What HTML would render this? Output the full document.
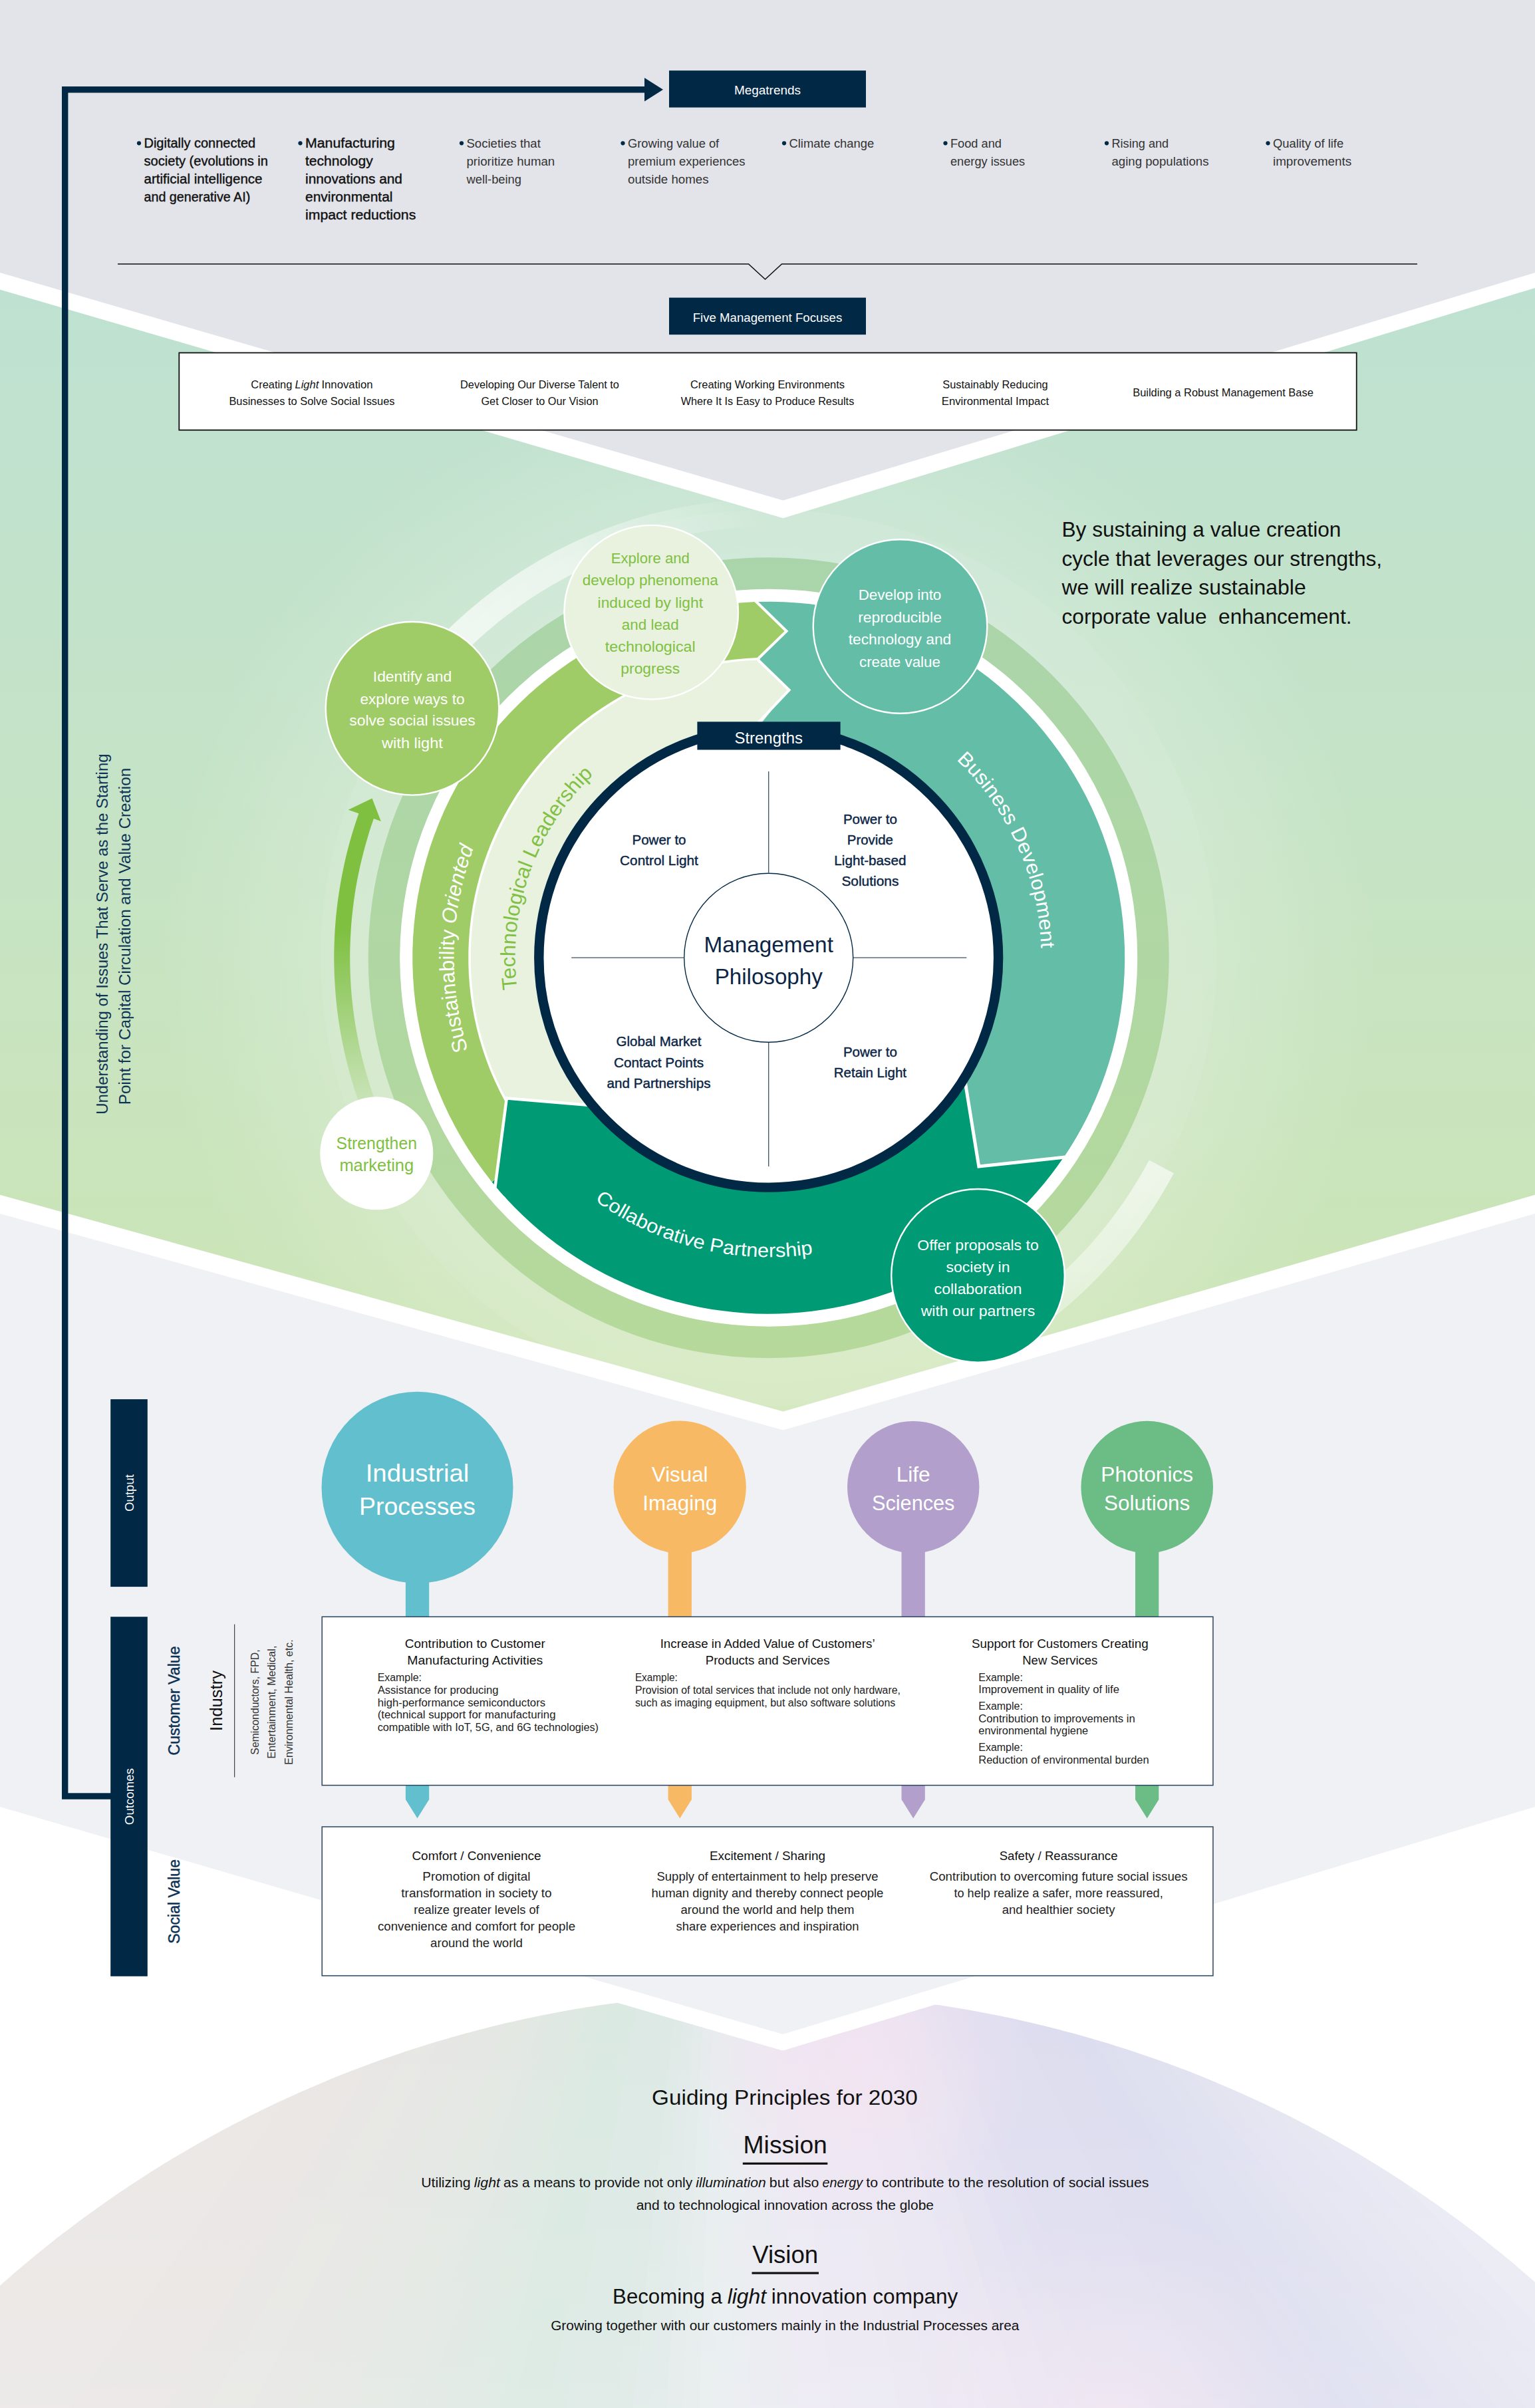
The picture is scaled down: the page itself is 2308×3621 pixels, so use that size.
<!DOCTYPE html>
<html lang="en"><head><meta charset="utf-8"><title>Value Creation Model</title>
<style>html,body{margin:0;padding:0;background:#fff}body{width:2308px;height:3621px;overflow:hidden}svg{display:block}text{font-family:"Liberation Sans", sans-serif;white-space:pre}</style>
</head><body>
<svg width="2308" height="3621" viewBox="0 0 2308 3621">
<defs>
<linearGradient id="gGreen" x1="0" y1="0" x2="0" y2="1"><stop offset="0" stop-color="#bee1d1"/><stop offset="0.45" stop-color="#c5e3c6"/><stop offset="1" stop-color="#cde5b4"/></linearGradient>
<radialGradient id="gGlow" gradientUnits="userSpaceOnUse" cx="1155.7" cy="1440.2" r="1150"><stop offset="0" stop-color="#fff" stop-opacity="0.20"/><stop offset="0.52" stop-color="#fff" stop-opacity="0.20"/><stop offset="0.62" stop-color="#fff" stop-opacity="0.15"/><stop offset="0.72" stop-color="#fff" stop-opacity="0.06"/><stop offset="0.8" stop-color="#fff" stop-opacity="0"/></radialGradient>
<linearGradient id="gRing" gradientUnits="userSpaceOnUse" x1="0" y1="840" x2="0" y2="2040"><stop offset="0" stop-color="#aad5ab"/><stop offset="1" stop-color="#b6d99b"/></linearGradient>
<linearGradient id="gArrow" gradientUnits="userSpaceOnUse" x1="0" y1="1400" x2="0" y2="1700"><stop offset="0" stop-color="#7fc041" stop-opacity="1"/><stop offset="1" stop-color="#7fc041" stop-opacity="0"/></linearGradient>
<linearGradient id="gSw1" gradientUnits="userSpaceOnUse" x1="640" y1="1000" x2="1150" y2="790"><stop offset="0" stop-color="#fff" stop-opacity="0.7"/><stop offset="0.45" stop-color="#fff" stop-opacity="0.55"/><stop offset="1" stop-color="#fff" stop-opacity="0"/></linearGradient>
<linearGradient id="gSw2" gradientUnits="userSpaceOnUse" x1="1750" y1="1750" x2="1560" y2="2040"><stop offset="0" stop-color="#fff" stop-opacity="0.6"/><stop offset="1" stop-color="#fff" stop-opacity="0.3"/></linearGradient>
<clipPath id="cGreen"><polygon points="0,435.4 1177.5,779.2 2308,433 2308,1796.7 1177.6,2122.4 0,1796.7"/></clipPath>
<clipPath id="cDome"><polygon points="0,2742 1177,3083.8 2308,2742 2308,3621 0,3621"/></clipPath>
<linearGradient id="gDome" gradientUnits="userSpaceOnUse" x1="0" y1="3000" x2="2308" y2="3700"><stop offset="0.0361" stop-color="#ebe8e6"/><stop offset="0.1918" stop-color="#e7e6e3"/><stop offset="0.3108" stop-color="#dbe9e3"/><stop offset="0.4024" stop-color="#dfebe7"/><stop offset="0.4665" stop-color="#e9ecef"/><stop offset="0.5398" stop-color="#ebe6f1"/><stop offset="0.6588" stop-color="#dfdef0"/><stop offset="0.7871" stop-color="#dddff0"/><stop offset="0.9519" stop-color="#efeff5"/></linearGradient>
<radialGradient id="gPink" gradientUnits="userSpaceOnUse" cx="1290" cy="3090" r="260"><stop offset="0" stop-color="#f3e3f1" stop-opacity="0.9"/><stop offset="1" stop-color="#f3e3f1" stop-opacity="0"/></radialGradient>
<radialGradient id="gPink2" gradientUnits="userSpaceOnUse" cx="1680" cy="3660" r="330"><stop offset="0" stop-color="#f3e6f0" stop-opacity="0.8"/><stop offset="1" stop-color="#f3e6f0" stop-opacity="0"/></radialGradient>
<linearGradient id="gDomeV" gradientUnits="userSpaceOnUse" x1="0" y1="3000" x2="0" y2="3621"><stop offset="0" stop-color="#fff" stop-opacity="0"/><stop offset="1" stop-color="#fff" stop-opacity="0.12"/></linearGradient>
</defs>
<rect width="2308" height="3621" fill="#fff"/>
<polygon points="0,0 2308,0 2308,410 1177.5,752.5 0,410" fill="#e2e4ea"/>
<polygon points="0,435.4 1177.5,779.2 2308,433 2308,1796.7 1177.6,2122.4 0,1796.7" fill="url(#gGreen)"/>
<polygon points="0,1825 1177.6,2150.5 2308,1825 2308,2717 1177,3059 0,2717" fill="#f0f1f4"/>
<clipPath id="cDomeC"><circle cx="1157" cy="4736" r="1739.5"/></clipPath>
<g clip-path="url(#cDome)"><g clip-path="url(#cDomeC)">
<polygon points="1100.0,2200.0 4108.0,3291.8 4086.5,3349.4" fill="#f2f2f7"/>
<polygon points="1100.0,2200.0 4088.5,3344.2 4065.9,3401.3" fill="#f2f2f7"/>
<polygon points="1100.0,2200.0 4068.0,3396.2 4044.5,3452.9" fill="#f2f2f7"/>
<polygon points="1100.0,2200.0 4046.7,3447.8 4022.2,3504.1" fill="#f2f2f7"/>
<polygon points="1100.0,2200.0 4024.5,3499.0 3999.0,3554.9" fill="#f2f2f7"/>
<polygon points="1100.0,2200.0 4001.4,3549.8 3974.9,3605.3" fill="#f1f1f7"/>
<polygon points="1100.0,2200.0 3977.4,3600.3 3950.0,3655.3" fill="#f1f1f7"/>
<polygon points="1100.0,2200.0 3952.5,3650.3 3924.1,3704.8" fill="#f1f1f7"/>
<polygon points="1100.0,2200.0 3926.7,3699.8 3897.4,3753.8" fill="#f1f1f7"/>
<polygon points="1100.0,2200.0 3900.1,3748.9 3869.9,3802.4" fill="#f1f1f7"/>
<polygon points="1100.0,2200.0 3872.7,3797.6 3841.5,3850.5" fill="#f1f1f6"/>
<polygon points="1100.0,2200.0 3844.4,3845.7 3812.3,3898.1" fill="#f1f1f6"/>
<polygon points="1100.0,2200.0 3815.2,3893.4 3782.2,3945.2" fill="#f1f1f6"/>
<polygon points="1100.0,2200.0 3785.3,3940.5 3751.4,3991.7" fill="#f1f1f6"/>
<polygon points="1100.0,2200.0 3754.5,3987.1 3719.7,4037.7" fill="#f1f1f6"/>
<polygon points="1100.0,2200.0 3722.9,4033.2 3687.2,4083.2" fill="#f0f0f6"/>
<polygon points="1100.0,2200.0 3690.5,4078.7 3654.0,4128.0" fill="#f0f0f6"/>
<polygon points="1100.0,2200.0 3657.3,4123.6 3619.9,4172.3" fill="#f0f0f6"/>
<polygon points="1100.0,2200.0 3623.4,4167.9 3585.1,4216.0" fill="#f0f0f6"/>
<polygon points="1100.0,2200.0 3588.6,4211.7 3549.5,4259.1" fill="#f0f0f6"/>
<polygon points="1100.0,2200.0 3553.1,4254.8 3513.2,4301.5" fill="#f0f0f6"/>
<polygon points="1100.0,2200.0 3516.9,4297.3 3476.2,4343.3" fill="#eeeef5"/>
<polygon points="1100.0,2200.0 3479.9,4339.1 3438.4,4384.4" fill="#eeeef5"/>
<polygon points="1100.0,2200.0 3442.2,4380.4 3399.9,4424.9" fill="#ececf5"/>
<polygon points="1100.0,2200.0 3403.8,4420.9 3360.8,4464.7" fill="#ececf4"/>
<polygon points="1100.0,2200.0 3364.7,4460.8 3320.9,4503.8" fill="#eaeaf4"/>
<polygon points="1100.0,2200.0 3324.9,4499.9 3280.4,4542.2" fill="#eaeaf4"/>
<polygon points="1100.0,2200.0 3284.4,4538.4 3239.1,4579.9" fill="#e8e8f3"/>
<polygon points="1100.0,2200.0 3243.3,4576.2 3197.3,4616.9" fill="#e7e7f3"/>
<polygon points="1100.0,2200.0 3201.5,4613.2 3154.8,4653.1" fill="#e6e6f2"/>
<polygon points="1100.0,2200.0 3159.1,4649.5 3111.7,4688.6" fill="#e5e5f2"/>
<polygon points="1100.0,2200.0 3116.0,4685.1 3067.9,4723.4" fill="#e4e4f2"/>
<polygon points="1100.0,2200.0 3072.3,4719.9 3023.6,4757.3" fill="#e3e3f1"/>
<polygon points="1100.0,2200.0 3028.0,4754.0 2978.7,4790.5" fill="#e1e2f1"/>
<polygon points="1100.0,2200.0 2983.2,4787.2 2933.2,4822.9" fill="#e0e1f0"/>
<polygon points="1100.0,2200.0 2937.7,4819.7 2887.1,4854.5" fill="#dfe0f0"/>
<polygon points="1100.0,2200.0 2891.7,4851.4 2840.5,4885.3" fill="#dedff0"/>
<polygon points="1100.0,2200.0 2845.2,4882.2 2793.4,4915.2" fill="#dddeef"/>
<polygon points="1100.0,2200.0 2798.1,4912.3 2745.7,4944.4" fill="#dcddef"/>
<polygon points="1100.0,2200.0 2750.5,4941.5 2697.6,4972.7" fill="#dcddef"/>
<polygon points="1100.0,2200.0 2702.4,4969.9 2648.9,5000.1" fill="#ddddef"/>
<polygon points="1100.0,2200.0 2653.8,4997.4 2599.8,5026.7" fill="#ddddef"/>
<polygon points="1100.0,2200.0 2604.8,5024.1 2550.3,5052.5" fill="#ddddef"/>
<polygon points="1100.0,2200.0 2555.3,5050.0 2500.3,5077.4" fill="#dedef0"/>
<polygon points="1100.0,2200.0 2505.3,5074.9 2449.8,5101.4" fill="#dedef0"/>
<polygon points="1100.0,2200.0 2454.9,5099.0 2399.0,5124.5" fill="#dedef0"/>
<polygon points="1100.0,2200.0 2404.1,5122.2 2347.8,5146.7" fill="#dfdef0"/>
<polygon points="1100.0,2200.0 2352.9,5144.5 2296.2,5168.0" fill="#dfdef0"/>
<polygon points="1100.0,2200.0 2301.3,5165.9 2244.2,5188.5" fill="#e0def0"/>
<polygon points="1100.0,2200.0 2249.4,5186.5 2191.8,5208.0" fill="#e1e0f0"/>
<polygon points="1100.0,2200.0 2197.1,5206.1 2139.2,5226.6" fill="#e2e0f1"/>
<polygon points="1100.0,2200.0 2144.5,5224.7 2086.2,5244.2" fill="#e4e2f1"/>
<polygon points="1100.0,2200.0 2091.5,5242.5 2032.9,5261.0" fill="#e5e2f1"/>
<polygon points="1100.0,2200.0 2038.3,5259.4 1979.4,5276.8" fill="#e7e4f1"/>
<polygon points="1100.0,2200.0 1984.7,5275.3 1925.5,5291.7" fill="#e8e4f2"/>
<polygon points="1100.0,2200.0 1930.9,5290.2 1871.4,5305.6" fill="#e9e6f2"/>
<polygon points="1100.0,2200.0 1876.9,5304.3 1817.1,5318.6" fill="#eae6f2"/>
<polygon points="1100.0,2200.0 1822.6,5317.4 1762.6,5330.7" fill="#eae6f2"/>
<polygon points="1100.0,2200.0 1768.0,5329.5 1707.8,5341.7" fill="#ebe7f2"/>
<polygon points="1100.0,2200.0 1713.3,5340.7 1652.9,5351.9" fill="#ebe7f2"/>
<polygon points="1100.0,2200.0 1658.4,5350.9 1597.8,5361.0" fill="#ebe8f2"/>
<polygon points="1100.0,2200.0 1603.3,5360.2 1542.6,5369.2" fill="#ebe8f3"/>
<polygon points="1100.0,2200.0 1548.1,5368.5 1487.2,5376.5" fill="#ebe8f3"/>
<polygon points="1100.0,2200.0 1492.8,5375.8 1431.7,5382.8" fill="#ece8f3"/>
<polygon points="1100.0,2200.0 1437.3,5382.2 1376.1,5388.1" fill="#ece9f3"/>
<polygon points="1100.0,2200.0 1381.7,5387.6 1320.4,5392.4" fill="#ece9f3"/>
<polygon points="1100.0,2200.0 1326.0,5392.0 1264.7,5395.8" fill="#ebeaf2"/>
<polygon points="1100.0,2200.0 1270.3,5395.5 1208.9,5398.1" fill="#eaebf1"/>
<polygon points="1100.0,2200.0 1214.5,5398.0 1153.1,5399.6" fill="#eaebf1"/>
<polygon points="1100.0,2200.0 1158.6,5399.5 1097.2,5400.0" fill="#e9ecf0"/>
<polygon points="1100.0,2200.0 1102.8,5400.0 1041.4,5399.5" fill="#e8edef"/>
<polygon points="1100.0,2200.0 1046.9,5399.6 985.5,5398.0" fill="#e7edee"/>
<polygon points="1100.0,2200.0 991.1,5398.1 929.7,5395.5" fill="#e5ecec"/>
<polygon points="1100.0,2200.0 935.3,5395.8 874.0,5392.0" fill="#e3ebea"/>
<polygon points="1100.0,2200.0 879.6,5392.4 818.3,5387.6" fill="#e1eae9"/>
<polygon points="1100.0,2200.0 823.9,5388.1 762.7,5382.2" fill="#dfeae7"/>
<polygon points="1100.0,2200.0 768.3,5382.8 707.2,5375.8" fill="#dde9e5"/>
<polygon points="1100.0,2200.0 712.8,5376.5 651.9,5368.5" fill="#dce9e4"/>
<polygon points="1100.0,2200.0 657.4,5369.2 596.7,5360.2" fill="#dce9e4"/>
<polygon points="1100.0,2200.0 602.2,5361.0 541.6,5350.9" fill="#dce9e4"/>
<polygon points="1100.0,2200.0 547.1,5351.9 486.7,5340.7" fill="#dbe9e3"/>
<polygon points="1100.0,2200.0 492.2,5341.7 432.0,5329.5" fill="#dae9e2"/>
<polygon points="1100.0,2200.0 437.4,5330.7 377.4,5317.4" fill="#dae9e2"/>
<polygon points="1100.0,2200.0 382.9,5318.6 323.1,5304.3" fill="#dbe9e2"/>
<polygon points="1100.0,2200.0 328.6,5305.6 269.1,5290.2" fill="#dce9e2"/>
<polygon points="1100.0,2200.0 274.5,5291.7 215.3,5275.3" fill="#dee9e2"/>
<polygon points="1100.0,2200.0 220.6,5276.8 161.7,5259.4" fill="#dfe8e3"/>
<polygon points="1100.0,2200.0 167.1,5261.0 108.5,5242.5" fill="#e0e8e3"/>
<polygon points="1100.0,2200.0 113.8,5244.2 55.5,5224.7" fill="#e1e8e3"/>
<polygon points="1100.0,2200.0 60.8,5226.6 2.9,5206.1" fill="#e2e8e3"/>
<polygon points="1100.0,2200.0 8.2,5208.0 -49.4,5186.5" fill="#e3e8e3"/>
<polygon points="1100.0,2200.0 -44.2,5188.5 -101.3,5165.9" fill="#e3e8e3"/>
<polygon points="1100.0,2200.0 -96.2,5168.0 -152.9,5144.5" fill="#e4e7e3"/>
<polygon points="1100.0,2200.0 -147.8,5146.7 -204.1,5122.2" fill="#e4e7e3"/>
<polygon points="1100.0,2200.0 -199.0,5124.5 -254.9,5099.0" fill="#e5e7e3"/>
<polygon points="1100.0,2200.0 -249.8,5101.4 -305.3,5074.9" fill="#e6e7e4"/>
<polygon points="1100.0,2200.0 -300.3,5077.4 -355.3,5050.0" fill="#e6e7e4"/>
<polygon points="1100.0,2200.0 -350.3,5052.5 -404.8,5024.1" fill="#e7e7e4"/>
<polygon points="1100.0,2200.0 -399.8,5026.7 -453.8,4997.4" fill="#e7e7e4"/>
<polygon points="1100.0,2200.0 -448.9,5000.1 -502.4,4969.9" fill="#e8e6e4"/>
<polygon points="1100.0,2200.0 -497.6,4972.7 -550.5,4941.5" fill="#e8e6e4"/>
<polygon points="1100.0,2200.0 -545.7,4944.4 -598.1,4912.3" fill="#e9e6e4"/>
<polygon points="1100.0,2200.0 -593.4,4915.2 -645.2,4882.2" fill="#e9e6e4"/>
<polygon points="1100.0,2200.0 -640.5,4885.3 -691.7,4851.4" fill="#e9e6e4"/>
<polygon points="1100.0,2200.0 -687.1,4854.5 -737.7,4819.7" fill="#e9e6e4"/>
<polygon points="1100.0,2200.0 -733.2,4822.9 -783.2,4787.2" fill="#eae7e5"/>
<polygon points="1100.0,2200.0 -778.7,4790.5 -828.0,4754.0" fill="#eae7e5"/>
<polygon points="1100.0,2200.0 -823.6,4757.3 -872.3,4719.9" fill="#eae7e5"/>
<polygon points="1100.0,2200.0 -867.9,4723.4 -916.0,4685.1" fill="#eae7e5"/>
<polygon points="1100.0,2200.0 -911.7,4688.6 -959.1,4649.5" fill="#eae7e5"/>
<polygon points="1100.0,2200.0 -954.8,4653.1 -1001.5,4613.2" fill="#eae7e5"/>
<polygon points="1100.0,2200.0 -997.3,4616.9 -1043.3,4576.2" fill="#eae7e5"/>
<polygon points="1100.0,2200.0 -1039.1,4579.9 -1084.4,4538.4" fill="#ebe8e6"/>
<polygon points="1100.0,2200.0 -1080.4,4542.2 -1124.9,4499.9" fill="#ebe8e6"/>
<polygon points="1100.0,2200.0 -1120.9,4503.8 -1164.7,4460.8" fill="#ebe8e6"/>
<polygon points="1100.0,2200.0 -1160.8,4464.7 -1203.8,4420.9" fill="#ebe8e6"/>
<polygon points="1100.0,2200.0 -1199.9,4424.9 -1242.2,4380.4" fill="#ebe8e6"/>
<polygon points="1100.0,2200.0 -1238.4,4384.4 -1279.9,4339.1" fill="#ebe8e6"/>
<polygon points="1100.0,2200.0 -1276.2,4343.3 -1316.9,4297.3" fill="#ebe8e6"/>
<polygon points="1100.0,2200.0 -1313.2,4301.5 -1353.1,4254.8" fill="#ebe8e6"/>
<polygon points="1100.0,2200.0 -1349.5,4259.1 -1388.6,4211.7" fill="#ebe8e6"/>
<polygon points="1100.0,2200.0 -1385.1,4216.0 -1423.4,4167.9" fill="#ebe8e6"/>
<polygon points="1100.0,2200.0 -1419.9,4172.3 -1457.3,4123.6" fill="#ebe8e6"/>
<polygon points="1100.0,2200.0 -1454.0,4128.0 -1490.5,4078.7" fill="#ebe8e6"/>
<polygon points="1100.0,2200.0 -1487.2,4083.2 -1522.9,4033.2" fill="#ebe8e6"/>
<polygon points="1100.0,2200.0 -1519.7,4037.7 -1554.5,3987.1" fill="#ebe8e6"/>
<polygon points="1100.0,2200.0 -1551.4,3991.7 -1585.3,3940.5" fill="#ebe8e6"/>
<polygon points="1100.0,2200.0 -1582.2,3945.2 -1615.2,3893.4" fill="#ebe8e6"/>
<polygon points="1100.0,2200.0 -1612.3,3898.1 -1644.4,3845.7" fill="#ebe8e6"/>
<polygon points="1100.0,2200.0 -1641.5,3850.5 -1672.7,3797.6" fill="#ebe8e6"/>
<polygon points="1100.0,2200.0 -1669.9,3802.4 -1700.1,3748.9" fill="#ece9e7"/>
<polygon points="1100.0,2200.0 -1697.4,3753.8 -1726.7,3699.8" fill="#ece9e7"/>
<polygon points="1100.0,2200.0 -1724.1,3704.8 -1752.5,3650.3" fill="#ece9e7"/>
<polygon points="1100.0,2200.0 -1750.0,3655.3 -1777.4,3600.3" fill="#ece9e7"/>
<polygon points="1100.0,2200.0 -1774.9,3605.3 -1801.4,3549.8" fill="#ece9e7"/>
<polygon points="1100.0,2200.0 -1799.0,3554.9 -1824.5,3499.0" fill="#ece9e7"/>
<polygon points="1100.0,2200.0 -1822.2,3504.1 -1846.7,3447.8" fill="#ece9e7"/>
<polygon points="1100.0,2200.0 -1844.5,3452.9 -1868.0,3396.2" fill="#ece9e7"/>
<polygon points="1100.0,2200.0 -1865.9,3401.3 -1888.5,3344.2" fill="#ece9e7"/>
<polygon points="1100.0,2200.0 -1886.5,3349.4 -1908.0,3291.8" fill="#ece9e7"/>
<polygon points="1100.0,2200.0 -1906.1,3297.1 -1926.6,3239.2" fill="#ece9e7"/>
<polygon points="1100.0,2200.0 -1924.7,3244.5 -1944.2,3186.2" fill="#ece9e7"/>
<polygon points="1100.0,2200.0 -1942.5,3191.5 -1961.0,3132.9" fill="#ece9e7"/>
<polygon points="1100.0,2200.0 -1959.4,3138.3 -1976.8,3079.4" fill="#ece9e7"/>
<polygon points="1100.0,2200.0 -1975.3,3084.7 -1991.7,3025.5" fill="#ece9e7"/>
<rect x="0" y="2700" width="2308" height="921" fill="url(#gPink)"/><rect x="0" y="2700" width="2308" height="921" fill="url(#gPink2)"/><rect x="0" y="2700" width="2308" height="921" fill="url(#gDomeV)"/>
</g></g>
<g clip-path="url(#cGreen)">
<circle cx="1155.7" cy="1440.2" r="1150" fill="url(#gGlow)"/>
<circle cx="1155.7" cy="1440.2" r="674" fill="#fff" fill-opacity="0.08"/>
<path d="M530.35,1148.59 A690.00,690.00 0 0 1 1215.84,752.83 L1212.18,794.67 A648.00,648.00 0 0 0 568.41,1166.34 Z" fill="url(#gSw1)" />
<path d="M1764.93,1764.14 A690.00,690.00 0 0 1 1500.70,2037.76 L1479.70,2001.38 A648.00,648.00 0 0 0 1727.85,1744.42 Z" fill="url(#gSw2)" />
</g>
<circle cx="1155.7" cy="1440.2" r="578" fill="none" stroke="url(#gRing)" stroke-width="48"/>
<circle cx="1155.7" cy="1440.2" r="554.5" fill="#fff"/>
<polygon points="541.7,1663.7 538.0,1653.1 534.4,1642.4 531.0,1631.7 527.8,1621.0 524.8,1610.1 522.0,1599.3 519.3,1588.3 516.9,1577.4 514.6,1566.4 512.5,1555.3 510.6,1544.3 508.9,1533.2 507.4,1522.0 506.1,1510.9 505.0,1499.7 504.1,1488.5 503.4,1477.3 502.8,1466.1 502.5,1454.9 502.3,1443.6 502.3,1432.4 502.6,1421.2 503.0,1409.9 503.6,1398.7 504.4,1387.5 505.4,1376.3 506.6,1365.2 508.0,1354.0 509.6,1342.9 511.4,1331.8 513.3,1320.7 515.5,1309.7 517.8,1298.7 520.3,1287.8 523.0,1276.9 525.9,1266.0 529.0,1255.2 532.3,1244.5 535.8,1233.8 539.4,1223.2 523.7,1217.7 559.5,1200.5 572.8,1234.9 561.9,1231.1 558.4,1241.3 555.1,1251.6 552.0,1262.0 549.0,1272.4 546.2,1282.9 543.6,1293.4 541.1,1303.9 538.9,1314.5 536.8,1325.1 534.9,1335.8 533.2,1346.4 531.7,1357.2 530.4,1367.9 529.2,1378.7 528.2,1389.4 527.5,1400.2 526.9,1411.0 526.5,1421.9 526.2,1432.7 526.2,1443.5 526.4,1454.3 526.7,1465.1 527.2,1475.9 527.9,1486.7 528.8,1497.5 529.9,1508.3 531.2,1519.0 532.6,1529.8 534.2,1540.5 536.1,1551.1 538.1,1561.8 540.2,1572.4 542.6,1582.9 545.1,1593.4 547.9,1603.9 550.8,1614.3 553.9,1624.7 557.1,1635.0 560.5,1645.3 564.2,1655.5" fill="url(#gArrow)"/>
<path d="M1641.03,1666.51 A535.50,535.50 0 0 1 739.54,1777.20 L885.25,1659.20 A348.00,348.00 0 0 0 1471.10,1587.27 Z" fill="#009b74" />
<polygon points="1139.8,904.9 1159.4,904.7 1178.9,905.2 1198.5,906.4 1217.9,908.3 1237.3,911.0 1256.6,914.3 1275.7,918.3 1294.7,923.1 1313.5,928.5 1332.1,934.6 1350.5,941.4 1368.5,948.8 1386.4,956.9 1403.9,965.7 1421.0,975.0 1437.8,985.0 1454.3,995.7 1470.3,1006.9 1485.9,1018.6 1501.1,1031.0 1515.8,1043.9 1530.1,1057.3 1543.8,1071.2 1557.0,1085.6 1569.7,1100.5 1581.8,1115.9 1593.4,1131.7 1604.4,1147.9 1614.7,1164.5 1624.5,1181.4 1633.7,1198.7 1642.2,1216.3 1650.0,1234.2 1657.2,1252.4 1663.7,1270.9 1669.6,1289.5 1674.7,1308.4 1679.2,1327.5 1683.0,1346.7 1686.0,1366.0 1688.4,1385.4 1690.0,1404.9 1691.0,1424.4 1691.2,1444.0 1690.7,1463.6 1689.5,1483.1 1687.6,1502.6 1684.9,1521.9 1681.6,1541.2 1677.5,1560.4 1672.8,1579.3 1667.4,1598.1 1661.3,1616.7 1654.5,1635.1 1647.0,1653.2 1638.9,1671.0 1630.2,1688.5 1620.8,1705.6 1610.8,1722.4 1600.2,1738.9 1471.8,1754.1 1450.8,1624.6 1457.3,1613.9 1463.3,1602.9 1469.0,1591.7 1474.2,1580.4 1479.1,1568.8 1483.5,1557.1 1487.5,1545.2 1491.0,1533.2 1494.2,1521.1 1496.9,1508.9 1499.1,1496.6 1500.9,1484.2 1502.3,1471.7 1503.2,1459.2 1503.6,1446.7 1503.6,1434.2 1503.2,1421.7 1502.3,1409.2 1501.0,1396.8 1499.2,1384.4 1497.0,1372.0 1494.3,1359.8 1491.2,1347.7 1487.6,1335.7 1483.7,1323.8 1479.3,1312.1 1474.4,1300.5 1469.2,1289.1 1463.6,1278.0 1457.5,1267.0 1451.1,1256.2 1444.3,1245.7 1437.1,1235.5 1429.6,1225.5 1421.7,1215.8 1413.4,1206.4 1404.8,1197.2 1395.9,1188.4 1386.7,1179.9 1377.2,1171.8 1367.4,1164.0 1357.3,1156.6 1347.0,1149.5 1336.4,1142.8 1325.6,1136.5 1314.6,1130.6 1303.3,1125.1 1291.9,1120.0 1280.3,1115.3 1268.5,1111.0 1256.6,1107.1 1244.6,1103.7 1232.4,1100.8 1220.1,1098.2 1207.8,1096.1 1195.4,1094.5 1182.9,1093.3 1170.4,1092.5 1157.9,1092.2 1145.4,1092.4" fill="#64bea7"/>
<polyline points="1601.8,1740.0 1471.8,1754.1 1450.8,1624.6" fill="none" stroke="#fff" stroke-width="5" stroke-linejoin="miter"/>
<path d="M739.54,1777.20 A535.50,535.50 0 0 1 1137.01,905.03 L1143.55,1092.41 A348.00,348.00 0 0 0 885.25,1659.20 Z" fill="#fff" />
<polygon points="739.5,1777.2 727.4,1761.6 715.8,1745.6 704.9,1729.2 694.5,1712.3 684.8,1695.1 675.7,1677.6 667.3,1659.7 659.5,1641.6 652.4,1623.1 646.0,1604.4 640.3,1585.5 635.3,1566.4 631.0,1547.1 627.4,1527.7 624.5,1508.2 622.4,1488.5 621.0,1468.8 620.3,1449.1 620.3,1429.3 621.1,1409.6 622.6,1389.9 624.8,1370.2 627.7,1350.7 631.4,1331.3 635.8,1312.0 640.9,1292.9 646.6,1274.0 653.1,1255.4 660.3,1237.0 668.1,1218.8 676.6,1201.0 685.8,1183.5 695.5,1166.3 706.0,1149.5 717.0,1133.1 728.6,1117.2 740.8,1101.6 753.6,1086.5 766.9,1072.0 780.8,1057.9 795.1,1044.3 810.0,1031.3 825.3,1018.8 841.1,1006.9 857.3,995.6 873.9,984.9 890.9,974.8 908.2,965.3 925.9,956.5 943.9,948.4 962.2,940.9 980.7,934.1 999.5,928.0 1018.5,922.6 1037.7,917.9 1057.0,913.9 1076.5,910.6 1096.1,908.0 1115.8,906.2 1135.5,905.1 1180.4,949.0 1139.3,989.0 1122.7,989.9 1106.1,991.4 1089.6,993.6 1073.1,996.3 1056.8,999.7 1040.6,1003.6 1024.6,1008.2 1008.7,1013.3 993.1,1019.0 977.6,1025.3 962.4,1032.2 947.5,1039.6 932.8,1047.5 918.5,1056.0 904.5,1065.0 890.8,1074.6 877.5,1084.6 864.6,1095.1 852.0,1106.1 839.9,1117.5 828.2,1129.4 816.9,1141.7 806.2,1154.4 795.9,1167.5 786.0,1181.0 776.7,1194.8 767.9,1209.0 759.6,1223.4 751.9,1238.2 744.7,1253.2 738.1,1268.5 732.1,1284.1 726.6,1299.8 721.7,1315.7 717.4,1331.9 713.7,1348.1 710.6,1364.5 708.1,1381.0 706.2,1397.5 705.0,1414.1 704.3,1430.8 704.3,1447.5 704.8,1464.1 706.0,1480.8 707.8,1497.3 710.2,1513.8 713.3,1530.2 716.9,1546.5 721.1,1562.6 725.9,1578.6 731.3,1594.3 737.3,1609.9 743.9,1625.2 751.0,1640.3 758.6,1655.1 766.8,1669.6 775.6,1683.8 784.8,1697.7 794.6,1711.2 804.8,1724.3" fill="#9fcc66"/>
<polyline points="1135.5,903.2 1182.6,949 1139.4,991" fill="none" stroke="#fff" stroke-width="4"/>
<polygon points="807.5,1722.1 797.4,1709.1 787.7,1695.6 778.5,1681.9 769.8,1667.8 761.7,1653.3 754.0,1638.6 747.0,1623.7 740.5,1608.4 734.6,1593.0 729.2,1577.3 724.4,1561.4 720.2,1545.4 716.6,1529.3 713.6,1513.0 711.3,1496.6 709.5,1480.1 708.3,1463.6 707.8,1447.0 707.8,1430.5 708.5,1413.9 709.7,1397.4 711.6,1381.0 714.1,1364.6 717.2,1348.3 720.9,1332.2 725.2,1316.2 730.1,1300.4 735.5,1284.7 741.6,1269.3 748.2,1254.1 755.3,1239.2 763.0,1224.5 771.3,1210.2 780.0,1196.1 789.3,1182.4 799.1,1169.0 809.3,1156.0 820.1,1143.4 831.3,1131.2 842.9,1119.5 855.0,1108.1 867.5,1097.2 880.3,1086.8 893.6,1076.9 907.2,1067.4 921.1,1058.5 935.4,1050.1 950.0,1042.2 964.8,1034.9 979.9,1028.1 995.3,1021.9 1010.8,1016.3 1026.6,1011.2 1042.6,1006.7 1058.7,1002.8 1074.9,999.5 1091.2,996.9 1107.7,994.8 1124.2,993.3 1140.7,992.5 1184.3,1037.6 1140.9,1092.5 1128.1,1093.3 1115.3,1094.6 1102.6,1096.3 1090.0,1098.5 1077.5,1101.1 1065.0,1104.2 1052.7,1107.8 1040.6,1111.8 1028.6,1116.3 1016.7,1121.2 1005.1,1126.5 993.6,1132.2 982.4,1138.4 971.4,1145.0 960.7,1152.0 950.2,1159.4 940.0,1167.1 930.1,1175.2 920.5,1183.7 911.2,1192.5 902.3,1201.7 893.7,1211.2 885.4,1221.0 877.5,1231.1 870.0,1241.5 862.9,1252.1 856.2,1263.0 849.9,1274.2 844.0,1285.5 838.5,1297.1 833.4,1308.9 828.8,1320.8 824.6,1333.0 820.9,1345.2 817.6,1357.6 814.8,1370.1 812.5,1382.7 810.6,1395.4 809.2,1408.1 808.2,1420.9 807.8,1433.7 807.8,1446.5 808.2,1459.3 809.2,1472.1 810.6,1484.8 812.4,1497.5 814.8,1510.1 817.6,1522.6 820.8,1534.9 824.6,1547.2 828.7,1559.3 833.3,1571.3 838.4,1583.0 843.8,1594.6 849.7,1606.0 856.0,1617.2 862.8,1628.1 869.9,1638.7 877.4,1649.1 885.3,1659.2" fill="#e8f2de"/>
<polyline points="1139,991.5 1186.6,1037.6 1140.7,1086" fill="none" stroke="#fff" stroke-width="4"/>
<polygon points="757.7,1798.5 746.1,1785.1 761.8,1651.4 887.6,1662.0 897.1,1673.1" fill="#009b74"/>
<polyline points="744.1,1787.4 761.8,1651.4 887.6,1662.0" fill="none" stroke="#fff" stroke-width="4.5"/>
<circle cx="1155.7" cy="1440.2" r="345.4" fill="#fff" stroke="#012845" stroke-width="14.4"/>
<circle cx="1155.7" cy="1440.2" r="127" fill="#fff" stroke="#012845" stroke-width="1.4"/>
<g stroke="#3a5068" stroke-width="1.3">
<line x1="859.2" y1="1440.2" x2="1028.6" y2="1440.2"/>
<line x1="1282.9" y1="1440.2" x2="1453.3" y2="1440.2"/>
<line x1="1155.7" y1="1159.9" x2="1155.7" y2="1312.5"/>
<line x1="1155.7" y1="1567.9" x2="1155.7" y2="1753.9"/>
</g>
<rect x="1048.4" y="1085.3" width="215.2" height="42.2" fill="#012845"/>
<text x="1104.45" y="1118.20" font-size="23.90" fill="#fff" textLength="102.50" lengthAdjust="spacingAndGlyphs" >Strengths</text>
<text x="1058.49" y="1431.90" font-size="33.00" fill="#0b2545" textLength="194.42" lengthAdjust="spacingAndGlyphs" >Management</text>
<text x="1074.68" y="1480.30" font-size="33.00" fill="#0b2545" textLength="162.04" lengthAdjust="spacingAndGlyphs" >Philosophy</text>
<text x="950.50" y="1269.80" font-size="20.40" fill="#0b2545" textLength="81.00" lengthAdjust="spacingAndGlyphs" stroke="#0b2545" stroke-width="0.41" >Power to</text>
<text x="932.13" y="1301.10" font-size="20.40" fill="#0b2545" textLength="117.75" lengthAdjust="spacingAndGlyphs" stroke="#0b2545" stroke-width="0.41" >Control Light</text>
<text x="1267.90" y="1239.10" font-size="20.40" fill="#0b2545" textLength="81.00" lengthAdjust="spacingAndGlyphs" stroke="#0b2545" stroke-width="0.41" >Power to</text>
<text x="1273.84" y="1269.80" font-size="20.40" fill="#0b2545" textLength="69.12" lengthAdjust="spacingAndGlyphs" stroke="#0b2545" stroke-width="0.41" >Provide</text>
<text x="1254.30" y="1301.10" font-size="20.40" fill="#0b2545" textLength="108.20" lengthAdjust="spacingAndGlyphs" stroke="#0b2545" stroke-width="0.41" >Light-based</text>
<text x="1265.40" y="1332.30" font-size="20.40" fill="#0b2545" textLength="86.00" lengthAdjust="spacingAndGlyphs" stroke="#0b2545" stroke-width="0.41" >Solutions</text>
<text x="926.59" y="1573.10" font-size="20.40" fill="#0b2545" textLength="127.83" lengthAdjust="spacingAndGlyphs" stroke="#0b2545" stroke-width="0.41" >Global Market</text>
<text x="922.94" y="1604.90" font-size="20.40" fill="#0b2545" textLength="135.11" lengthAdjust="spacingAndGlyphs" stroke="#0b2545" stroke-width="0.41" >Contact Points</text>
<text x="912.49" y="1636.10" font-size="20.40" fill="#0b2545" textLength="156.02" lengthAdjust="spacingAndGlyphs" stroke="#0b2545" stroke-width="0.41" >and Partnerships</text>
<text x="1267.90" y="1588.70" font-size="20.40" fill="#0b2545" textLength="81.00" lengthAdjust="spacingAndGlyphs" stroke="#0b2545" stroke-width="0.41" >Power to</text>
<text x="1253.84" y="1620.00" font-size="20.40" fill="#0b2545" textLength="109.12" lengthAdjust="spacingAndGlyphs" stroke="#0b2545" stroke-width="0.41" >Retain Light</text>
<path id="pSus" d="M703.61,1579.28 A473.00,473.00 0 1 1 1607.79,1301.12 A473.00,473.00 0 1 1 703.61,1579.28" fill="none"/>
<text font-size="31.00" fill="#fff" textLength="310.4" lengthAdjust="spacingAndGlyphs"><textPath href="#pSus" startOffset="0" textLength="310.4" lengthAdjust="spacingAndGlyphs"><tspan>Sustainability </tspan><tspan font-style="italic">Oriented</tspan></textPath></text>
<path id="pTec" d="M777.62,1487.29 A381.00,381.00 0 1 1 1533.78,1393.11 A381.00,381.00 0 1 1 777.62,1487.29" fill="none"/>
<text font-size="31.00" fill="#80c042" textLength="355.1" lengthAdjust="spacingAndGlyphs"><textPath href="#pTec" startOffset="0" textLength="355.1" lengthAdjust="spacingAndGlyphs"><tspan>Technological Leadership</tspan></textPath></text>
<path id="pBus" d="M1437.93,1142.80 A410.00,410.00 0 1 1 873.47,1737.60 A410.00,410.00 0 1 1 1437.93,1142.80" fill="none"/>
<text font-size="30.00" fill="#fff" textLength="318.4" lengthAdjust="spacingAndGlyphs"><textPath href="#pBus" startOffset="0" textLength="318.4" lengthAdjust="spacingAndGlyphs"><tspan>Business Development</tspan></textPath></text>
<path id="pCol" d="M894.33,1805.28 A449.00,449.00 0 1 0 1417.07,1075.12 A449.00,449.00 0 1 0 894.33,1805.28" fill="none"/>
<text font-size="29.00" fill="#fff" textLength="346.4" lengthAdjust="spacingAndGlyphs"><textPath href="#pCol" startOffset="0" textLength="346.4" lengthAdjust="spacingAndGlyphs"><tspan>Collaborative Partnership</tspan></textPath></text>
<circle cx="620.0" cy="1065.3" r="130.3" fill="#9fcc66" stroke="#fff" stroke-width="2.4"/>
<text x="560.78" y="1024.60" font-size="22.70" fill="#fff" textLength="118.44" lengthAdjust="spacingAndGlyphs" >Identify and</text>
<text x="541.43" y="1058.50" font-size="22.70" fill="#fff" textLength="157.14" lengthAdjust="spacingAndGlyphs" >explore ways to</text>
<text x="525.26" y="1091.30" font-size="22.70" fill="#fff" textLength="189.48" lengthAdjust="spacingAndGlyphs" >solve social issues</text>
<text x="574.07" y="1124.70" font-size="22.70" fill="#fff" textLength="91.85" lengthAdjust="spacingAndGlyphs" >with light</text>
<circle cx="979.2" cy="920.7" r="130.8" fill="#e8f2de" stroke="#fff" stroke-width="2.4"/>
<text x="918.69" y="847.40" font-size="22.70" fill="#7fc041" textLength="118.21" lengthAdjust="spacingAndGlyphs" >Explore and</text>
<text x="875.79" y="880.30" font-size="22.70" fill="#7fc041" textLength="204.02" lengthAdjust="spacingAndGlyphs" >develop phenomena</text>
<text x="898.58" y="913.60" font-size="22.70" fill="#7fc041" textLength="158.44" lengthAdjust="spacingAndGlyphs" >induced by light</text>
<text x="934.79" y="947.00" font-size="22.70" fill="#7fc041" textLength="86.02" lengthAdjust="spacingAndGlyphs" >and lead</text>
<text x="909.89" y="980.30" font-size="22.70" fill="#7fc041" textLength="135.81" lengthAdjust="spacingAndGlyphs" >technological</text>
<text x="933.37" y="1013.20" font-size="22.70" fill="#7fc041" textLength="88.86" lengthAdjust="spacingAndGlyphs" >progress</text>
<circle cx="1353.5" cy="942.0" r="130.8" fill="#64bea7" stroke="#fff" stroke-width="2.4"/>
<text x="1290.64" y="902.30" font-size="22.70" fill="#fff" textLength="124.73" lengthAdjust="spacingAndGlyphs" >Develop into</text>
<text x="1290.15" y="935.70" font-size="22.70" fill="#fff" textLength="125.70" lengthAdjust="spacingAndGlyphs" >reproducible</text>
<text x="1275.70" y="969.10" font-size="22.70" fill="#fff" textLength="154.60" lengthAdjust="spacingAndGlyphs" >technology and</text>
<text x="1291.95" y="1002.50" font-size="22.70" fill="#fff" textLength="122.09" lengthAdjust="spacingAndGlyphs" >create value</text>
<circle cx="1470.5" cy="1918.3" r="130.3" fill="#009b74" stroke="#fff" stroke-width="2.4"/>
<text x="1379.28" y="1879.60" font-size="22.70" fill="#fff" textLength="182.43" lengthAdjust="spacingAndGlyphs" >Offer proposals to</text>
<text x="1422.52" y="1912.90" font-size="22.70" fill="#fff" textLength="95.95" lengthAdjust="spacingAndGlyphs" >society in</text>
<text x="1404.53" y="1946.40" font-size="22.70" fill="#fff" textLength="131.93" lengthAdjust="spacingAndGlyphs" >collaboration</text>
<text x="1384.66" y="1979.00" font-size="22.70" fill="#fff" textLength="171.67" lengthAdjust="spacingAndGlyphs" >with our partners</text>
<circle cx="566.3" cy="1734.3" r="85.0" fill="#fff"/>
<text x="505.61" y="1727.90" font-size="25.00" fill="#7fc041" textLength="121.38" lengthAdjust="spacingAndGlyphs" >Strengthen</text>
<text x="510.41" y="1760.50" font-size="25.00" fill="#7fc041" textLength="111.78" lengthAdjust="spacingAndGlyphs" >marketing</text>
<text x="1596.50" y="807.40" font-size="30.50" fill="#111" textLength="419.96" lengthAdjust="spacingAndGlyphs" >By sustaining a value creation</text>
<text x="1596.50" y="850.50" font-size="30.50" fill="#111" textLength="481.60" lengthAdjust="spacingAndGlyphs" >cycle that leverages our strengths,</text>
<text x="1596.50" y="894.30" font-size="30.50" fill="#111" textLength="367.15" lengthAdjust="spacingAndGlyphs" >we will realize sustainable</text>
<text x="1596.50" y="937.70" font-size="30.50" fill="#111" textLength="435.98" lengthAdjust="spacingAndGlyphs" >corporate value  enhancement.</text>
<path d="M97.7,2701 V134.7 H970" fill="none" stroke="#012845" stroke-width="9.4"/>
<rect x="93" y="2696.3" width="75" height="9.4" fill="#012845"/>
<polygon points="969,117 997,134.7 969,152.4" fill="#012845"/>
<rect x="1006" y="106.1" width="296" height="55.5" fill="#012845"/>
<text x="1103.92" y="142.00" font-size="18.80" fill="#fff" textLength="100.17" lengthAdjust="spacingAndGlyphs" >Megatrends</text>
<circle cx="209.0" cy="215.3" r="3.1" fill="#012845"/>
<text x="216.50" y="222.20" font-size="19.60" fill="#111" textLength="167.67" lengthAdjust="spacingAndGlyphs" stroke="#111" stroke-width="0.39" >Digitally connected</text>
<text x="216.50" y="249.15" font-size="19.60" fill="#111" textLength="186.42" lengthAdjust="spacingAndGlyphs" stroke="#111" stroke-width="0.39" >society (evolutions in</text>
<text x="216.50" y="276.10" font-size="19.60" fill="#111" textLength="178.05" lengthAdjust="spacingAndGlyphs" stroke="#111" stroke-width="0.39" >artificial intelligence</text>
<text x="216.50" y="303.05" font-size="19.60" fill="#111" textLength="159.75" lengthAdjust="spacingAndGlyphs" stroke="#111" stroke-width="0.39" >and generative AI)</text>
<circle cx="451.5" cy="215.3" r="3.1" fill="#012845"/>
<text x="459.00" y="222.20" font-size="20.55" fill="#111" textLength="134.97" lengthAdjust="spacingAndGlyphs" stroke="#111" stroke-width="0.41" >Manufacturing</text>
<text x="459.00" y="249.15" font-size="20.55" fill="#111" textLength="101.79" lengthAdjust="spacingAndGlyphs" stroke="#111" stroke-width="0.41" >technology</text>
<text x="459.00" y="276.10" font-size="20.55" fill="#111" textLength="145.95" lengthAdjust="spacingAndGlyphs" stroke="#111" stroke-width="0.41" >innovations and</text>
<text x="459.00" y="303.05" font-size="20.55" fill="#111" textLength="131.46" lengthAdjust="spacingAndGlyphs" stroke="#111" stroke-width="0.41" >environmental</text>
<text x="459.00" y="330.00" font-size="20.55" fill="#111" textLength="166.28" lengthAdjust="spacingAndGlyphs" stroke="#111" stroke-width="0.41" >impact reductions</text>
<circle cx="694.0" cy="215.3" r="3.1" fill="#012845"/>
<text x="701.50" y="222.20" font-size="18.70" fill="#333" textLength="111.32" lengthAdjust="spacingAndGlyphs" >Societies that</text>
<text x="701.50" y="249.15" font-size="18.70" fill="#333" textLength="132.68" lengthAdjust="spacingAndGlyphs" >prioritize human</text>
<text x="701.50" y="276.10" font-size="18.70" fill="#333" textLength="82.42" lengthAdjust="spacingAndGlyphs" >well-being</text>
<circle cx="936.5" cy="215.3" r="3.1" fill="#012845"/>
<text x="944.00" y="222.20" font-size="18.70" fill="#333" textLength="137.17" lengthAdjust="spacingAndGlyphs" >Growing value of</text>
<text x="944.00" y="249.15" font-size="18.70" fill="#333" textLength="176.40" lengthAdjust="spacingAndGlyphs" >premium experiences</text>
<text x="944.00" y="276.10" font-size="18.70" fill="#333" textLength="121.55" lengthAdjust="spacingAndGlyphs" >outside homes</text>
<circle cx="1179.0" cy="215.3" r="3.1" fill="#012845"/>
<text x="1186.50" y="222.20" font-size="18.70" fill="#333" textLength="127.67" lengthAdjust="spacingAndGlyphs" >Climate change</text>
<circle cx="1421.5" cy="215.3" r="3.1" fill="#012845"/>
<text x="1429.00" y="222.20" font-size="18.70" fill="#333" textLength="76.94" lengthAdjust="spacingAndGlyphs" >Food and</text>
<text x="1429.00" y="249.15" font-size="18.70" fill="#333" textLength="112.16" lengthAdjust="spacingAndGlyphs" >energy issues</text>
<circle cx="1664.0" cy="215.3" r="3.1" fill="#012845"/>
<text x="1671.50" y="222.20" font-size="18.70" fill="#333" textLength="85.68" lengthAdjust="spacingAndGlyphs" >Rising and</text>
<text x="1671.50" y="249.15" font-size="18.70" fill="#333" textLength="145.99" lengthAdjust="spacingAndGlyphs" >aging populations</text>
<circle cx="1906.5" cy="215.3" r="3.1" fill="#012845"/>
<text x="1914.00" y="222.20" font-size="18.70" fill="#333" textLength="106.10" lengthAdjust="spacingAndGlyphs" >Quality of life</text>
<text x="1914.00" y="249.15" font-size="18.70" fill="#333" textLength="118.18" lengthAdjust="spacingAndGlyphs" >improvements</text>
<polyline points="177,397 1125.5,397 1150.5,420 1175.5,397 2131,397" fill="none" stroke="#111" stroke-width="1.6"/>
<rect x="1006" y="447.6" width="296" height="55.6" fill="#012845"/>
<text x="1041.75" y="483.50" font-size="18.80" fill="#fff" textLength="224.51" lengthAdjust="spacingAndGlyphs" >Five Management Focuses</text>
<rect x="269.3" y="530.5" width="1770.4" height="116.2" fill="#fff" stroke="#111" stroke-width="1.8"/>
<text x="377.34" y="583.60" font-size="16.60" fill="#111" textLength="62.06" lengthAdjust="spacingAndGlyphs" >Creating</text>
<text x="443.52" y="583.60" font-size="16.60" fill="#111" textLength="35.77" lengthAdjust="spacingAndGlyphs" font-style="italic" >Light</text>
<text x="483.41" y="583.60" font-size="16.60" fill="#111" textLength="77.25" lengthAdjust="spacingAndGlyphs" >Innovation</text>
<text x="344.42" y="608.60" font-size="16.60" fill="#111" textLength="249.16" lengthAdjust="spacingAndGlyphs" >Businesses to Solve Social Issues</text>
<text x="692.06" y="583.60" font-size="16.60" fill="#111" textLength="238.88" lengthAdjust="spacingAndGlyphs" >Developing Our Diverse Talent to</text>
<text x="723.45" y="608.60" font-size="16.60" fill="#111" textLength="176.09" lengthAdjust="spacingAndGlyphs" >Get Closer to Our Vision</text>
<text x="1037.94" y="583.60" font-size="16.60" fill="#111" textLength="232.11" lengthAdjust="spacingAndGlyphs" >Creating Working Environments</text>
<text x="1023.75" y="608.60" font-size="16.60" fill="#111" textLength="260.49" lengthAdjust="spacingAndGlyphs" >Where It Is Easy to Produce Results</text>
<text x="1417.32" y="583.60" font-size="16.60" fill="#111" textLength="158.36" lengthAdjust="spacingAndGlyphs" >Sustainably Reducing</text>
<text x="1415.77" y="608.60" font-size="16.60" fill="#111" textLength="161.46" lengthAdjust="spacingAndGlyphs" >Environmental Impact</text>
<text x="1703.17" y="596.00" font-size="16.60" fill="#111" textLength="271.66" lengthAdjust="spacingAndGlyphs" >Building a Robust Management Base</text>
<text x="-108.95" y="1404.60" font-size="24.60" fill="#0e3557" textLength="542.30" lengthAdjust="spacingAndGlyphs" transform="rotate(-90 162.20 1404.60)" >Understanding of Issues That Serve as the Starting</text>
<text x="-57.55" y="1408.00" font-size="24.60" fill="#0e3557" textLength="506.30" lengthAdjust="spacingAndGlyphs" transform="rotate(-90 195.60 1408.00)" >Point for Capital Circulation and Value Creation</text>
<rect x="166.2" y="2104.1" width="55.6" height="282" fill="#012845"/>
<rect x="166.2" y="2431.2" width="55.6" height="540.6" fill="#012845"/>
<text x="172.54" y="2245.00" font-size="18.60" fill="#fff" textLength="55.92" lengthAdjust="spacingAndGlyphs" transform="rotate(-90 200.50 2245.00)" >Output</text>
<text x="157.87" y="2701.50" font-size="18.60" fill="#fff" textLength="85.25" lengthAdjust="spacingAndGlyphs" transform="rotate(-90 200.50 2701.50)" >Outcomes</text>
<text x="187.94" y="2557.50" font-size="23.00" fill="#0c3154" textLength="164.11" lengthAdjust="spacingAndGlyphs" stroke="#0c3154" stroke-width="0.46" transform="rotate(-90 270.00 2557.50)" >Customer Value</text>
<text x="206.59" y="2859.40" font-size="23.00" fill="#0c3154" textLength="126.83" lengthAdjust="spacingAndGlyphs" stroke="#0c3154" stroke-width="0.46" transform="rotate(-90 270.00 2859.40)" >Social Value</text>
<text x="288.60" y="2557.50" font-size="25.20" fill="#111" textLength="90.81" lengthAdjust="spacingAndGlyphs" transform="rotate(-90 334.00 2557.50)" >Industry</text>
<line x1="352.6" y1="2442.5" x2="352.6" y2="2672.6" stroke="#444" stroke-width="1.2"/>
<text x="309.84" y="2559.50" font-size="16.50" fill="#333" textLength="158.31" lengthAdjust="spacingAndGlyphs" transform="rotate(-90 389.00 2559.50)" >Semiconductors, FPD,</text>
<text x="329.08" y="2559.50" font-size="16.50" fill="#333" textLength="169.84" lengthAdjust="spacingAndGlyphs" transform="rotate(-90 414.00 2559.50)" >Entertainment, Medical,</text>
<text x="345.23" y="2559.50" font-size="16.50" fill="#333" textLength="188.54" lengthAdjust="spacingAndGlyphs" transform="rotate(-90 439.50 2559.50)" >Environmental Health, etc.</text>
<rect x="609.9" y="2236.8" width="35.3" height="469.6" fill="#62bfce"/>
<polygon points="609.9,2706 645.1,2706 627.5,2734.2" fill="#62bfce"/>
<circle cx="627.5" cy="2236.8" r="144.0" fill="#62bfce"/>
<rect x="1004.6" y="2236.1" width="35.3" height="470.3" fill="#f8b964"/>
<polygon points="1004.6,2706 1039.9,2706 1022.2,2734.2" fill="#f8b964"/>
<circle cx="1022.2" cy="2236.1" r="99.6" fill="#f8b964"/>
<rect x="1355.5" y="2236.1" width="35.3" height="470.3" fill="#b29fcb"/>
<polygon points="1355.5,2706 1390.9,2706 1373.2,2734.2" fill="#b29fcb"/>
<circle cx="1373.2" cy="2236.1" r="99.2" fill="#b29fcb"/>
<rect x="1707.0" y="2236.1" width="35.3" height="470.3" fill="#6bbd85"/>
<polygon points="1707.0,2706 1742.4,2706 1724.7,2734.2" fill="#6bbd85"/>
<circle cx="1724.7" cy="2236.1" r="99.3" fill="#6bbd85"/>
<text x="549.65" y="2228.00" font-size="37.50" fill="#fff" textLength="155.70" lengthAdjust="spacingAndGlyphs" >Industrial</text>
<text x="540.08" y="2278.00" font-size="37.50" fill="#fff" textLength="174.85" lengthAdjust="spacingAndGlyphs" >Processes</text>
<text x="979.82" y="2228.00" font-size="31.00" fill="#fff" textLength="84.77" lengthAdjust="spacingAndGlyphs" >Visual</text>
<text x="966.22" y="2271.00" font-size="31.00" fill="#fff" textLength="111.95" lengthAdjust="spacingAndGlyphs" >Imaging</text>
<text x="1347.66" y="2228.00" font-size="31.00" fill="#fff" textLength="51.09" lengthAdjust="spacingAndGlyphs" >Life</text>
<text x="1311.00" y="2271.00" font-size="31.00" fill="#fff" textLength="124.39" lengthAdjust="spacingAndGlyphs" >Sciences</text>
<text x="1655.34" y="2228.00" font-size="31.00" fill="#fff" textLength="138.71" lengthAdjust="spacingAndGlyphs" >Photonics</text>
<text x="1660.10" y="2271.00" font-size="31.00" fill="#fff" textLength="129.19" lengthAdjust="spacingAndGlyphs" >Solutions</text>
<rect x="484.2" y="2431.2" width="1339.7" height="253.4" fill="#fff" stroke="#2a4560" stroke-width="1.5"/>
<rect x="484.2" y="2747" width="1339.7" height="224" fill="#fff" stroke="#2a4560" stroke-width="1.5"/>
<text x="608.79" y="2477.80" font-size="18.80" fill="#111" textLength="211.01" lengthAdjust="spacingAndGlyphs" >Contribution to Customer</text>
<text x="612.33" y="2502.60" font-size="18.80" fill="#111" textLength="203.95" lengthAdjust="spacingAndGlyphs" >Manufacturing Activities</text>
<text x="992.63" y="2477.80" font-size="18.80" fill="#111" textLength="322.93" lengthAdjust="spacingAndGlyphs" >Increase in Added Value of Customers’</text>
<text x="1060.69" y="2502.60" font-size="18.80" fill="#111" textLength="186.83" lengthAdjust="spacingAndGlyphs" >Products and Services</text>
<text x="1460.91" y="2477.80" font-size="18.80" fill="#111" textLength="265.77" lengthAdjust="spacingAndGlyphs" >Support for Customers Creating</text>
<text x="1537.28" y="2502.60" font-size="18.80" fill="#111" textLength="113.03" lengthAdjust="spacingAndGlyphs" >New Services</text>
<text x="567.70" y="2528.20" font-size="16.65" fill="#222" textLength="66.34" lengthAdjust="spacingAndGlyphs" >Example:</text>
<text x="567.70" y="2546.85" font-size="16.65" fill="#222" textLength="181.79" lengthAdjust="spacingAndGlyphs" >Assistance for producing</text>
<text x="567.70" y="2565.50" font-size="16.65" fill="#222" textLength="252.35" lengthAdjust="spacingAndGlyphs" >high-performance semiconductors</text>
<text x="567.70" y="2584.15" font-size="16.65" fill="#222" textLength="267.80" lengthAdjust="spacingAndGlyphs" >(technical support for manufacturing</text>
<text x="567.70" y="2602.80" font-size="16.65" fill="#222" textLength="332.29" lengthAdjust="spacingAndGlyphs" >compatible with IoT, 5G, and 6G technologies)</text>
<text x="954.90" y="2528.20" font-size="16.05" fill="#222" textLength="63.95" lengthAdjust="spacingAndGlyphs" >Example:</text>
<text x="954.90" y="2546.85" font-size="16.05" fill="#222" textLength="398.98" lengthAdjust="spacingAndGlyphs" >Provision of total services that include not only hardware,</text>
<text x="954.90" y="2565.50" font-size="16.05" fill="#222" textLength="391.40" lengthAdjust="spacingAndGlyphs" >such as imaging equipment, but also software solutions</text>
<text x="1471.30" y="2528.20" font-size="16.70" fill="#222" textLength="66.54" lengthAdjust="spacingAndGlyphs" >Example:</text>
<text x="1471.30" y="2546.20" font-size="16.70" fill="#222" textLength="211.61" lengthAdjust="spacingAndGlyphs" >Improvement in quality of life</text>
<text x="1471.30" y="2571.00" font-size="16.70" fill="#222" textLength="66.54" lengthAdjust="spacingAndGlyphs" >Example:</text>
<text x="1471.30" y="2589.80" font-size="16.70" fill="#222" textLength="235.49" lengthAdjust="spacingAndGlyphs" >Contribution to improvements in</text>
<text x="1471.30" y="2607.90" font-size="16.70" fill="#222" textLength="164.86" lengthAdjust="spacingAndGlyphs" >environmental hygiene</text>
<text x="1471.30" y="2632.70" font-size="16.70" fill="#222" textLength="66.54" lengthAdjust="spacingAndGlyphs" >Example:</text>
<text x="1471.30" y="2651.50" font-size="16.70" fill="#222" textLength="256.38" lengthAdjust="spacingAndGlyphs" >Reduction of environmental burden</text>
<text x="619.41" y="2796.60" font-size="18.80" fill="#111" textLength="194.18" lengthAdjust="spacingAndGlyphs" >Comfort / Convenience</text>
<text x="1066.97" y="2796.60" font-size="18.80" fill="#111" textLength="174.06" lengthAdjust="spacingAndGlyphs" >Excitement / Sharing</text>
<text x="1502.71" y="2796.60" font-size="18.80" fill="#111" textLength="177.77" lengthAdjust="spacingAndGlyphs" >Safety / Reassurance</text>
<text x="635.39" y="2828.20" font-size="18.80" fill="#222" textLength="162.22" lengthAdjust="spacingAndGlyphs" >Promotion of digital</text>
<text x="603.32" y="2853.20" font-size="18.80" fill="#222" textLength="226.35" lengthAdjust="spacingAndGlyphs" >transformation in society to</text>
<text x="622.32" y="2878.20" font-size="18.80" fill="#222" textLength="188.36" lengthAdjust="spacingAndGlyphs" >realize greater levels of</text>
<text x="567.96" y="2903.20" font-size="18.80" fill="#222" textLength="297.08" lengthAdjust="spacingAndGlyphs" >convenience and comfort for people</text>
<text x="647.07" y="2928.20" font-size="18.80" fill="#222" textLength="138.86" lengthAdjust="spacingAndGlyphs" >around the world</text>
<text x="987.50" y="2828.20" font-size="18.80" fill="#222" textLength="333.01" lengthAdjust="spacingAndGlyphs" >Supply of entertainment to help preserve</text>
<text x="979.59" y="2853.20" font-size="18.80" fill="#222" textLength="348.81" lengthAdjust="spacingAndGlyphs" >human dignity and thereby connect people</text>
<text x="1023.54" y="2878.20" font-size="18.80" fill="#222" textLength="260.93" lengthAdjust="spacingAndGlyphs" >around the world and help them</text>
<text x="1016.54" y="2903.20" font-size="18.80" fill="#222" textLength="274.92" lengthAdjust="spacingAndGlyphs" >share experiences and inspiration</text>
<text x="1397.63" y="2828.20" font-size="18.80" fill="#222" textLength="387.95" lengthAdjust="spacingAndGlyphs" >Contribution to overcoming future social issues</text>
<text x="1434.45" y="2853.20" font-size="18.80" fill="#222" textLength="314.31" lengthAdjust="spacingAndGlyphs" >to help realize a safer, more reassured,</text>
<text x="1506.74" y="2878.20" font-size="18.80" fill="#222" textLength="169.72" lengthAdjust="spacingAndGlyphs" >and healthier society</text>
<text x="980.10" y="3165.00" font-size="31.00" fill="#111" textLength="399.80" lengthAdjust="spacingAndGlyphs" >Guiding Principles for 2030</text>
<text x="1117.60" y="3238.30" font-size="36.00" fill="#111" textLength="126.20" lengthAdjust="spacingAndGlyphs" >Mission</text>
<rect x="1116.8" y="3251.8" width="127.5" height="3.2" fill="#111"/>
<text x="633.15" y="3288.90" font-size="20.50" fill="#111" textLength="74.49" lengthAdjust="spacingAndGlyphs" >Utilizing</text>
<text x="712.83" y="3288.90" font-size="20.50" fill="#111" textLength="39.11" lengthAdjust="spacingAndGlyphs" font-style="italic" >light</text>
<text x="757.14" y="3288.90" font-size="20.50" fill="#111" textLength="283.95" lengthAdjust="spacingAndGlyphs" >as a means to provide not only</text>
<text x="1046.28" y="3288.90" font-size="20.50" fill="#111" textLength="105.39" lengthAdjust="spacingAndGlyphs" font-style="italic" >illumination</text>
<text x="1156.87" y="3288.90" font-size="20.50" fill="#111" textLength="74.56" lengthAdjust="spacingAndGlyphs" >but also</text>
<text x="1236.62" y="3288.90" font-size="20.50" fill="#111" textLength="60.44" lengthAdjust="spacingAndGlyphs" font-style="italic" >energy</text>
<text x="1302.26" y="3288.90" font-size="20.50" fill="#111" textLength="425.19" lengthAdjust="spacingAndGlyphs" >to contribute to the resolution of social issues</text>
<text x="956.65" y="3322.90" font-size="20.50" fill="#111" textLength="447.30" lengthAdjust="spacingAndGlyphs" >and to technological innovation across the globe</text>
<text x="1131.20" y="3403.00" font-size="36.00" fill="#111" textLength="99.00" lengthAdjust="spacingAndGlyphs" >Vision</text>
<rect x="1130.5" y="3416.5" width="100.5" height="3.2" fill="#111"/>
<text x="921.10" y="3464.20" font-size="31.00" fill="#111" textLength="164.81" lengthAdjust="spacingAndGlyphs" >Becoming a</text>
<text x="1093.66" y="3464.20" font-size="31.00" fill="#111" textLength="58.39" lengthAdjust="spacingAndGlyphs" font-style="italic" >light</text>
<text x="1159.81" y="3464.20" font-size="31.00" fill="#111" textLength="280.49" lengthAdjust="spacingAndGlyphs" >innovation company</text>
<text x="828.15" y="3504.30" font-size="20.50" fill="#111" textLength="704.30" lengthAdjust="spacingAndGlyphs" >Growing together with our customers mainly in the Industrial Processes area</text>
</svg></body></html>
